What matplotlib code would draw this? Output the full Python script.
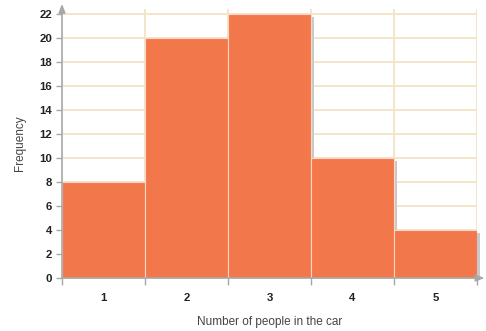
import matplotlib.pyplot as plt
import numpy as np

plt.rcParams['font.family'] = ['Liberation Sans', 'DejaVu Sans']

# Number of people in the car vs how often
people = [1, 2, 3, 4, 5]
frequency = [8, 20, 22, 10, 4]
y_ticks = list(range(0, 23, 2))

bar_color = '#f2784b'
grid_color = '#f3e5c9'
axis_color = '#a8a8a8'

fig = plt.figure(figsize=(4.86, 3.31), dpi=100)
ax = fig.add_axes([0.1276, 0.160, 0.854, 0.812])

x = np.array(people, dtype=float)
h = np.array(frequency, dtype=float)

# drop shadow on the right of each bar
ax.bar(x + 0.036, h - 0.25, width=1.0, bottom=0, color='#c9c9c9',
       zorder=2, clip_on=False, linewidth=0)
ax.bar(x, h, width=1.0, color=bar_color, edgecolor='#fbd6c4',
       linewidth=0.8, zorder=3)

ax.set_xlim(0.5, 5.5)
ax.set_ylim(0, 22.4)

# grid at bin edges and every 2 on y
edges = np.arange(0.5, 6.0, 1.0)
for e in edges[1:]:
    ax.axvline(e, color=grid_color, linewidth=1.4, zorder=1)
for t in y_ticks[1:]:
    ax.axhline(t, color=grid_color, linewidth=1.4, zorder=1)

for s in ax.spines.values():
    s.set_visible(False)

# axis lines with arrow heads
ax.annotate('', xy=(0, 1.02), xytext=(0, 0), xycoords='axes fraction',
            arrowprops=dict(arrowstyle='-|>,head_length=0.5,head_width=0.2',
                            color=axis_color, lw=1.2, shrinkA=0, shrinkB=0),
            annotation_clip=False)
ax.annotate('', xy=(1.018, 0), xytext=(0, 0), xycoords='axes fraction',
            arrowprops=dict(arrowstyle='-|>,head_length=0.5,head_width=0.2',
                            color=axis_color, lw=1.2, shrinkA=0, shrinkB=0),
            annotation_clip=False)

ax.set_yticks(y_ticks)
ax.set_yticklabels([str(t) for t in y_ticks], fontsize=8.2, fontweight='bold',
                   color='#222222')
ax.tick_params(axis='y', length=4, width=1, color=axis_color, pad=3)

ax.set_xticks(people)
ax.set_xticklabels([str(p) for p in people], fontsize=8.2, fontweight='bold',
                   color='#222222')
ax.tick_params(axis='x', which='major', length=0, pad=11)
ax.set_xticks(edges, minor=True)
ax.tick_params(axis='x', which='minor', length=5, width=1, color=axis_color)

ax.set_xlabel('Number of people in the car', fontsize=8.5, color='#444444',
              labelpad=9)
ax.set_ylabel('Frequency', fontsize=8.5, color='#444444', labelpad=10)

plt.savefig('out.png', dpi=100)
